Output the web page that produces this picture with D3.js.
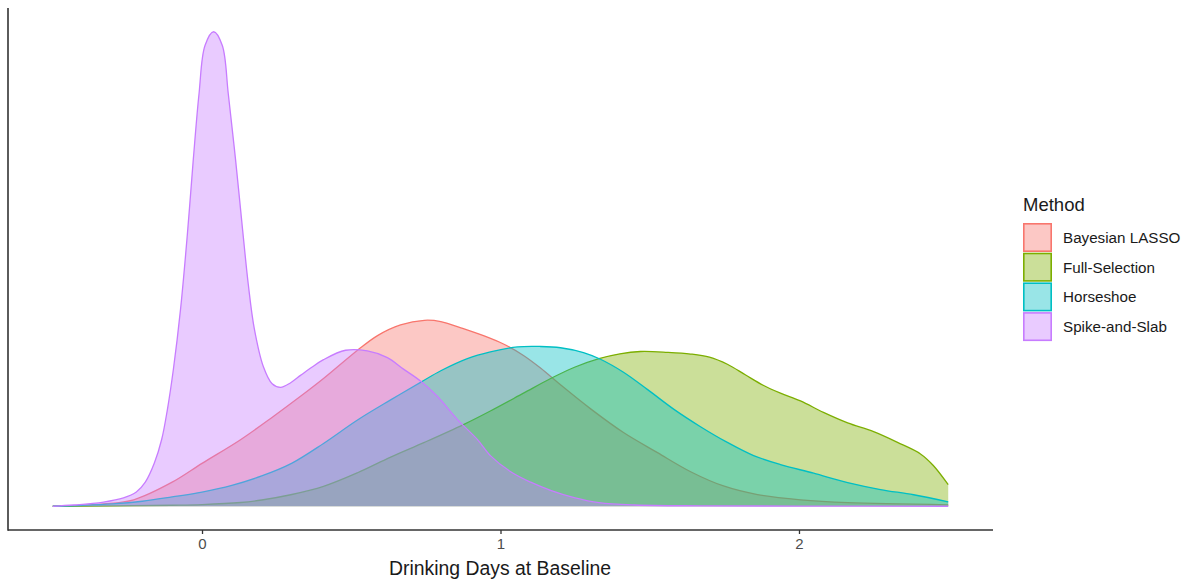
<!DOCTYPE html>
<html>
<head>
<meta charset="utf-8">
<script src="https://cdn.jsdelivr.net/npm/d3@7"></script>
<style>
  html, body { margin: 0; padding: 0; background: #ffffff; }
  svg { display: block; font-family: "Liberation Sans", Arial, Helvetica, sans-serif; }
</style>
</head>
<body>
<svg id="chart" width="1194" height="582"></svg>
<script>
// Posterior densities of drinking days at baseline, one per selection method
const methods = ["Bayesian LASSO", "Full-Selection", "Horseshoe", "Spike-and-Slab"];
const methodColors = ["#F8766D", "#7CAE00", "#00BFC4", "#C77CFF"];
const xTicks = [0, 1, 2];
const xTitle = "Drinking Days at Baseline";
const legendTitle = "Method";

// [value, density] pairs
const lassoDensity = [
  [-0.5, 0], [-0.43, 0.003], [-0.33, 0.011], [-0.229, 0.031], [-0.1, 0.115],
  [0.0, 0.205], [0.129, 0.318], [0.24, 0.43], [0.33, 0.525], [0.407, 0.61],
  [0.521, 0.745], [0.588, 0.815], [0.665, 0.866], [0.745, 0.888], [0.8, 0.882],
  [0.876, 0.848], [0.943, 0.815], [1.01, 0.775], [1.077, 0.72], [1.134, 0.66],
  [1.201, 0.58], [1.302, 0.465], [1.412, 0.352], [1.526, 0.256], [1.637, 0.165],
  [1.747, 0.097], [1.861, 0.056], [2.005, 0.031], [2.163, 0.017], [2.5, 0.007]
];
const fullDensity = [
  [-0.5, 0], [-0.3, 0.002], [-0.1, 0.005], [0.0, 0.008], [0.129, 0.018],
  [0.2, 0.03], [0.297, 0.055], [0.407, 0.095], [0.521, 0.16], [0.632, 0.235],
  [0.745, 0.305], [0.876, 0.39], [0.966, 0.455], [1.077, 0.54], [1.168, 0.61],
  [1.25, 0.665], [1.33, 0.705], [1.4, 0.728], [1.469, 0.739], [1.56, 0.735],
  [1.637, 0.727], [1.7, 0.712], [1.76, 0.678], [1.82, 0.628], [1.88, 0.578],
  [1.938, 0.54], [2.005, 0.503], [2.082, 0.448], [2.163, 0.398], [2.25, 0.356],
  [2.33, 0.305], [2.407, 0.25], [2.45, 0.195], [2.5, 0.103]
];
const horseshoeDensity = [
  [-0.5, 0], [-0.4, 0.004], [-0.3, 0.011], [-0.2, 0.024], [-0.1, 0.045],
  [0.0, 0.068], [0.1, 0.1], [0.2, 0.145], [0.3, 0.205], [0.407, 0.3],
  [0.521, 0.412], [0.632, 0.508], [0.735, 0.594], [0.8, 0.647], [0.889, 0.705],
  [0.966, 0.737], [1.057, 0.761], [1.134, 0.763], [1.201, 0.757], [1.278, 0.734],
  [1.335, 0.702], [1.412, 0.64], [1.493, 0.557], [1.58, 0.464], [1.67, 0.38],
  [1.76, 0.305], [1.848, 0.242], [1.938, 0.199], [2.049, 0.158], [2.163, 0.113],
  [2.273, 0.08], [2.384, 0.055], [2.5, 0.0215]
];
const spikeDensity = [
  [-0.5, 0], [-0.43, 0.006], [-0.33, 0.02], [-0.263, 0.04], [-0.22, 0.068],
  [-0.19, 0.115], [-0.16, 0.205], [-0.135, 0.32], [-0.116, 0.462], [-0.096, 0.653],
  [-0.072, 0.94], [-0.049, 1.3], [-0.029, 1.66], [-0.01, 1.97], [0.01, 2.2],
  [0.039, 2.266], [0.068, 2.2], [0.088, 1.97], [0.112, 1.66], [0.136, 1.32],
  [0.155, 1.06], [0.175, 0.85], [0.206, 0.665], [0.235, 0.585], [0.263, 0.568],
  [0.297, 0.59], [0.33, 0.625], [0.364, 0.66], [0.407, 0.7], [0.481, 0.745],
  [0.554, 0.742], [0.621, 0.71], [0.675, 0.655], [0.735, 0.595], [0.789, 0.524],
  [0.856, 0.414], [0.923, 0.318], [0.966, 0.242], [1.034, 0.165], [1.101, 0.115],
  [1.17, 0.075], [1.25, 0.04], [1.33, 0.017], [1.45, 0.006], [1.67, 0.002],
  [2.0, 0.001], [2.5, 0]
];

const series = [lassoDensity, fullDensity, horseshoeDensity, spikeDensity];

const svg = d3.select("#chart");
const panel = { left: 8, right: 993, top: 8, bottom: 530 };

// 5% expansion on both axes
const xLo = -0.5, xHi = 2.5;
const xPad = (xHi - xLo) * 0.05;
const x = d3.scaleLinear().domain([xLo - xPad, xHi + xPad]).range([panel.left, panel.right]);

const yMax = d3.max(series, s => d3.max(s, d => d[1]));
const y = d3.scaleLinear().domain([-yMax * 0.05, yMax * 1.05]).range([panel.bottom, panel.top]);

const smooth = d3.curveCatmullRom.alpha(0.5);
const area = d3.area()
  .x(d => x(d[0]))
  .y0(y(0))
  .y1(d => Math.min(y(0), y(d[1])))
  .curve(smooth);
const line = d3.line()
  .x(d => x(d[0]))
  .y(d => y(d[1]))
  .curve(smooth);

const plot = svg.append("g");
series.forEach((s, i) => {
  const g = plot.append("g").attr("class", "density");
  g.append("path")
    .datum(s)
    .attr("d", area)
    .attr("fill", methodColors[i])
    .attr("fill-opacity", 0.4)
    .attr("stroke", "none");
  g.append("path")
    .datum(s)
    .attr("d", line)
    .attr("fill", "none")
    .attr("stroke", methodColors[i])
    .attr("stroke-width", 1.3)
    .attr("stroke-linejoin", "round");
});

// Axes
const xAxis = d3.axisBottom(x)
  .tickValues(xTicks)
  .tickFormat(d3.format("d"))
  .tickSize(4)
  .tickPadding(4);
const gx = svg.append("g")
  .attr("transform", `translate(0,${panel.bottom})`)
  .call(xAxis);
gx.select(".domain").remove();
gx.selectAll(".tick line").attr("stroke", "#333333").attr("stroke-width", 1.3);
gx.selectAll(".tick text")
  .attr("fill", "#4d4d4d")
  .style("font-size", "15px")
  .style("font-family", "Liberation Sans, Arial, sans-serif");

svg.append("line")
  .attr("x1", panel.left).attr("x2", panel.right)
  .attr("y1", panel.bottom).attr("y2", panel.bottom)
  .attr("stroke", "#333333").attr("stroke-width", 1.6);
svg.append("line")
  .attr("x1", panel.left).attr("x2", panel.left)
  .attr("y1", panel.top).attr("y2", panel.bottom + 0.8)
  .attr("stroke", "#333333").attr("stroke-width", 1.6);

svg.append("text")
  .attr("x", 500)
  .attr("y", 575)
  .attr("text-anchor", "middle")
  .attr("fill", "#1a1a1a")
  .style("font-size", "19.4px")
  .text(xTitle);

// Legend
const legend = svg.append("g").attr("transform", "translate(1023,0)");
legend.append("text")
  .attr("x", 0)
  .attr("y", 211)
  .attr("fill", "#1a1a1a")
  .style("font-size", "18.5px")
  .text(legendTitle);

const keyTop = 223, keyStep = 29.7, keySize = 29;
methods.forEach((m, i) => {
  const ky = keyTop + i * keyStep;
  legend.append("rect")
    .attr("x", 0.8).attr("y", ky + 0.8)
    .attr("width", keySize - 1.6).attr("height", keySize - 1.6)
    .attr("fill", methodColors[i])
    .attr("fill-opacity", 0.4)
    .attr("stroke", methodColors[i])
    .attr("stroke-width", 1.6);
  legend.append("text")
    .attr("x", 40)
    .attr("y", ky + keySize / 2)
    .attr("dy", "0.35em")
    .attr("fill", "#1a1a1a")
    .style("font-size", "15.2px")
    .text(m);
});
</script>
</body>
</html>
